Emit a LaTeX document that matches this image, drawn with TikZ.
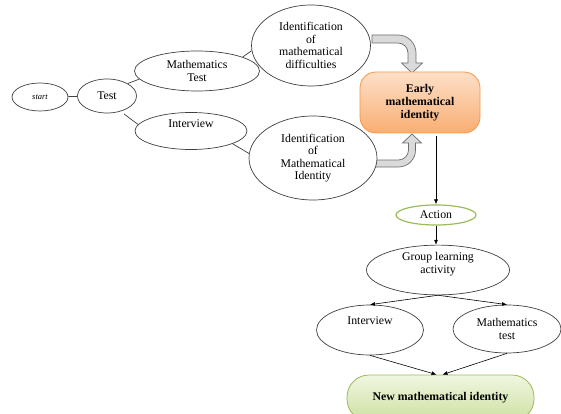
\documentclass[tikz,border=0pt]{standalone}
\usepackage{fontspec}
\setmainfont{Liberation Serif}
\usetikzlibrary{shapes.geometric,arrows.meta}
\definecolor{ringgray}{HTML}{404040}
\definecolor{orangerim}{HTML}{F79646}
\definecolor{orangetop}{HTML}{FDE0C8}
\definecolor{orangebot}{HTML}{F9AE72}
\definecolor{greenrim}{HTML}{9BBB59}
\definecolor{greentop}{HTML}{F0F6E0}
\definecolor{greenbot}{HTML}{CDE1A2}
\definecolor{bandfill}{HTML}{DADADA}
\definecolor{bandrim}{HTML}{6E6E6E}
\tikzset{
  ell/.style={ellipse, draw=ringgray, line width=0.7pt, fill=white, inner sep=0pt,
    align=center, font=\fontsize{11.8}{12.5}\selectfont},
  roundbox/.style={rounded corners=16pt, line width=0.8pt, inner sep=0pt,
    align=center, font=\fontsize{11.8}{13}\selectfont\bfseries},
  plain/.style={draw=ringgray, line width=0.7pt},
  tip/.style={draw=black, line width=0.6pt, -{Latex[length=5pt,width=4pt]}},
  band/.style={fill=bandfill, draw=bandrim, line width=0.7pt}
}
\begin{document}
\begin{tikzpicture}[x=1pt,y=-1pt]
\useasboundingbox (0,0) rectangle (561,414);
% block arrows
\path[band] (372,35) -- (398,35) .. controls (407.9,35) and (416,43.1) .. (416,53)
  -- (416,63) -- (422.5,63) -- (412,73) -- (401.5,63) -- (408,63) -- (408,53)
  .. controls (408,47.5) and (403.5,43) .. (398,43) -- (372,43) -- cycle;
\path[band] (372,167) -- (398.5,167) .. controls (407.9,167) and (415.5,159.4) .. (415.5,150)
  -- (415.5,143) -- (421.5,143) -- (412,134) -- (402.5,143) -- (408.5,143) -- (408.5,150)
  .. controls (408.5,155.5) and (404,160) .. (398.5,160) -- (372,160) -- cycle;
% nodes
\node[ell, minimum width=56pt, minimum height=28pt, font=\fontsize{8.5}{10}\selectfont\itshape] (start) at (40,97) {start};
\node[ell, minimum width=59pt, minimum height=34pt] (test) at (107,96) {Test};
\node[ell, minimum width=125pt, minimum height=40pt] (mt) at (197,71) {Mathematics\\Test};
\node[ell, minimum width=112pt, minimum height=37pt] (iv) at (191,131) {Interview\\[3pt]};
\node[ell, minimum width=119pt, minimum height=81pt] (idd) at (311,45.5) {Identification\\of\\mathematical\\difficulties};
\node[ell, minimum width=128pt, minimum height=84pt] (idm) at (313,158) {Identification\\of\\Mathematical\\Identity};
\node[roundbox, draw=orangerim, top color=orangetop, bottom color=orangebot,
  minimum width=120pt, minimum height=61pt] (early) at (420,102.5) {Early\\mathematical\\identity};
\node[ell, draw=greenrim, line width=1.2pt, minimum width=80pt, minimum height=20pt] (action) at (436,215) {Action};
\node[ell, minimum width=143pt, minimum height=40pt] (group) at (438,270) {Group learning\\activity\\[2pt]};
\node[ell, minimum width=107pt, minimum height=50pt] (iv2) at (370,330) {Interview\\[6pt]};
\node[ell, minimum width=108pt, minimum height=48pt] (mt2) at (507,329) {Mathematics\\test};
\node[roundbox, rounded corners=22pt, draw=greenrim, top color=greentop, bottom color=greenbot,
  minimum width=187pt, minimum height=46pt, text height=7pt] (new) at (440.5,398) {New mathematical identity};
% connectors
\draw[plain] (start) -- (test);
\draw[plain] (test.31) -- (mt.188);
\draw[plain] ([shift={(2pt,-3pt)}]test.-45) -- (iv.173);
\draw[plain] (mt.17) -- (idd.185);
\draw[plain] (iv.-17) -- (idm.176);
\draw[tip] ([shift={(16pt,-3pt)}]early.south) -- (action.north);
\draw[tip] (action.south) -- (action.south |- group.north);
\draw[tip] (group.south) -- (iv2.north);
\draw[tip] (group.south) -- (mt2.north);
\draw[tip] (iv2.south) -- ([xshift=-4pt]new.north);
\draw[tip] (mt2.south) -- ([xshift=2pt]new.north);
\end{tikzpicture}
\end{document}
